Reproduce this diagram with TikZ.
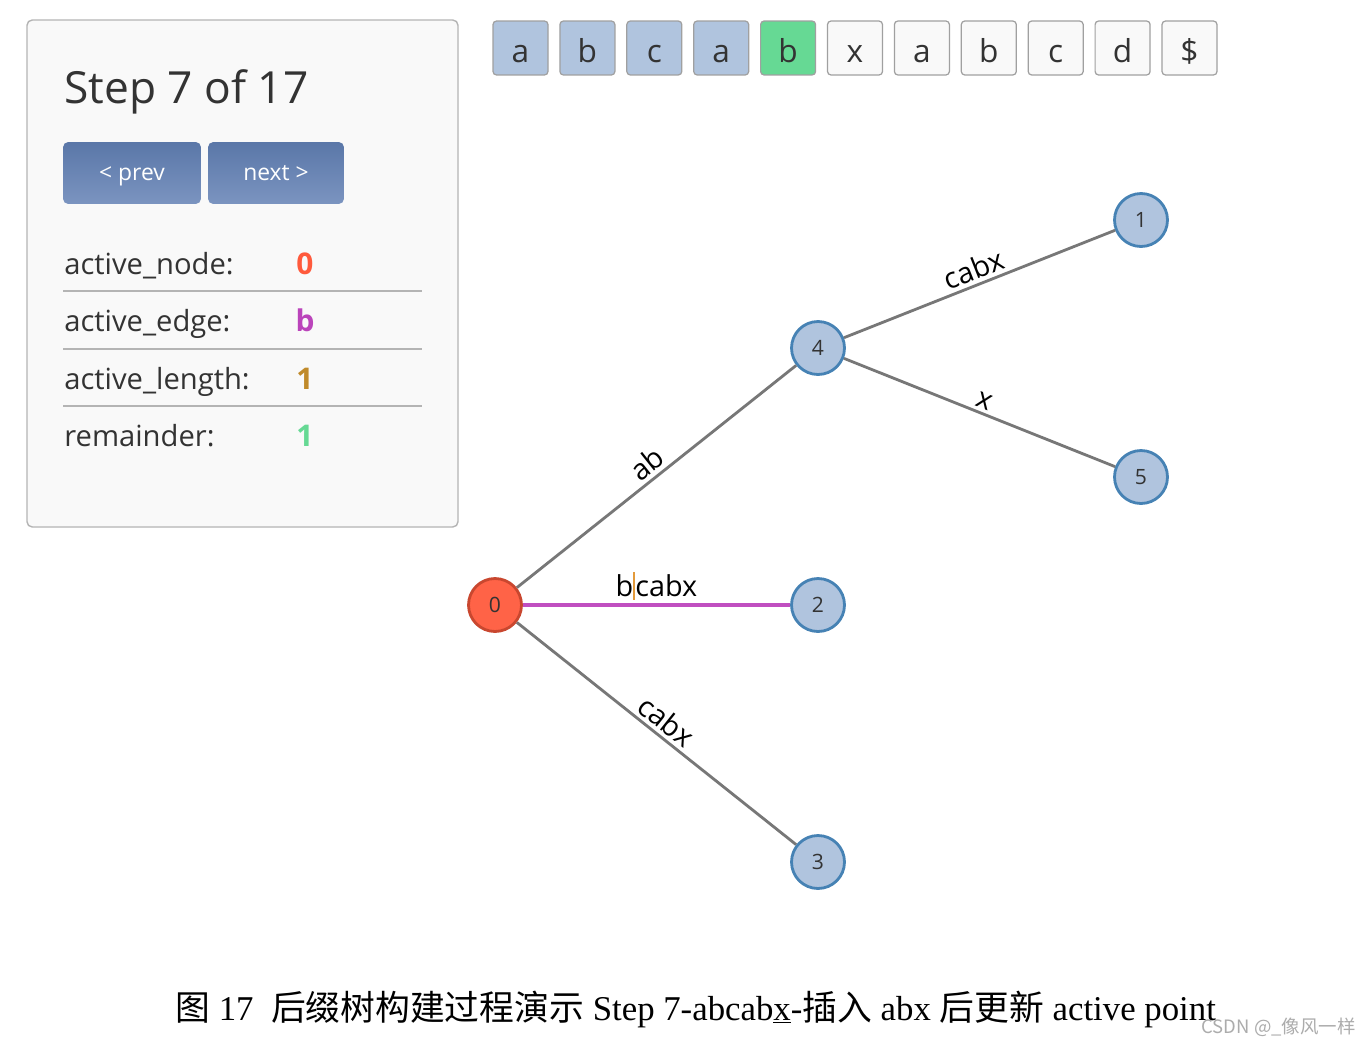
\documentclass[tikz,border=0pt]{standalone}
\usepackage{fontspec}
\setmainfont{Liberation Serif}
\newfontfamily\uifont{Open Sans}
\newfontfamily\cjkfont{Noto Sans CJK SC}
\usetikzlibrary{positioning}

\definecolor{panelbg}{HTML}{F9F9F9}
\definecolor{panelline}{HTML}{B4B4B4}
\definecolor{textgray}{HTML}{333333}
\definecolor{btntop}{HTML}{5A77A8}
\definecolor{btnbot}{HTML}{7B94C0}
\definecolor{nodefill}{HTML}{B0C4DE}
\definecolor{nodeline}{HTML}{4682B4}
\definecolor{activefill}{HTML}{FF6347}
\definecolor{activeline}{HTML}{C9472F}
\definecolor{edgegray}{HTML}{777777}
\definecolor{edgemag}{HTML}{C04FC0}
\definecolor{charblue}{HTML}{B0C4DE}
\definecolor{chargreen}{HTML}{66D994}
\definecolor{charwhite}{HTML}{F9F9F9}
\definecolor{charline}{HTML}{A0A0A0}
\definecolor{valnode}{HTML}{FF5A3C}
\definecolor{valedge}{HTML}{BB44BB}
\definecolor{vallen}{HTML}{C08A2A}
\definecolor{valrem}{HTML}{66D994}
\definecolor{cursorbar}{HTML}{E39A3B}

\begin{document}
\begin{tikzpicture}[x=0.02cm,y=-0.02cm,
  panel/.style={draw=panelline, fill=panelbg, line width=0.8pt, rounded corners=3pt},
  button/.style={top color=btntop, bottom color=btnbot, rounded corners=3pt, text=white,
    font=\uifont\fontsize{13}{15}\selectfont, minimum height=1.24cm, text height=10pt, text depth=1pt},
  rowtext/.style={anchor=base west, inner sep=0pt, text=textgray, font=\uifont\fontsize{16.6}{20}\selectfont},
  rowval/.style={anchor=base, inner sep=0pt, font=\uifont\bfseries\fontsize{17}{20}\selectfont},
  rowline/.style={draw=panelline, line width=1pt},
  charbox/.style={draw=charline, rounded corners=2pt, line width=0.7pt, minimum width=1.1cm,
    minimum height=1.08cm, text=textgray, font=\uifont\fontsize{18}{20}\selectfont,
    text height=17pt, text depth=1pt},
  treenode/.style={circle, draw=nodeline, fill=nodefill, line width=1.6pt, minimum size=1.06cm,
    inner sep=0pt, text=textgray, font=\uifont\fontsize{12}{14}\selectfont},
  activenode/.style={treenode, draw=activeline, fill=activefill},
  edge/.style={draw=edgegray, line width=1.6pt},
  elabel/.style={sloped, above, inner sep=2pt, text=black, font=\uifont\fontsize{16.4}{18}\selectfont}]
\useasboundingbox[fill=white] (0,0) rectangle (1372,1045);

% control panel
\draw[panel] (27,20) rectangle (458,527);
\node[anchor=base west, inner sep=0pt, text=textgray, font=\uifont\fontsize{25.2}{30}\selectfont] (title) at (64,103) {Step 7 of 17};
\node[button, minimum width=2.76cm] (prev) at (132,173) {< prev};
\node[button, minimum width=2.72cm] (next) at (276,173) {next >};
\foreach \lbl/\val/\col/\yb [count=\i] in {active\_node:/0/valnode/274, active\_edge:/b/valedge/331,
    active\_length:/1/vallen/389, remainder:/1/valrem/446} {
  \node[rowtext] (lbl\i) at (64,\yb) {\lbl};
  \node[rowval, text=\col] (val\i) at (305,\yb) {\val};
}
\foreach \yl in {291,349,406}
  \draw[rowline] (63,\yl) -- (422,\yl);

% string
\foreach \ch/\col [count=\i] in {a/charblue, b/charblue, c/charblue, a/charblue, b/chargreen,
    x/charwhite, a/charwhite, b/charwhite, c/charwhite, d/charwhite, \$/charwhite}
  \node[charbox, fill=\col] (ch\i) at ({520.5+(\i-1)*66.9},48) {\ch};

% suffix tree
\node[activenode] (n0) at (495,605) {0};
\node[treenode] (n4) at (818,348) {4};
\node[treenode] (n1) at (1141,220) {1};
\node[treenode] (n5) at (1141,477) {5};
\node[treenode] (n2) at (818,605) {2};
\node[treenode] (n3) at (818,862) {3};
\draw[edge] (n0) -- node[elabel] {ab} (n4);
\draw[edge] (n4) -- node[elabel] {cabx} (n1);
\draw[edge] (n4) -- node[elabel] {x} (n5);
\draw[edge, draw=edgemag, line width=2pt] (n0) -- node[elabel] {b\textcolor{cursorbar}{\rule[-0.12em]{0.07em}{0.95em}}cabx} (n2);
\draw[edge] (n0) -- node[elabel] {cabx} (n3);

% caption
\node[anchor=base west, inner sep=0pt, font=\fontsize{19.8}{22}\selectfont] (caption) at (175,1020)
  {{\cjkfont 图} 17\ \ {\cjkfont 后缀树构建过程演示} Step 7-abcab\underline{x}-{\cjkfont 插入} abx {\cjkfont 后更新} active point};
\node[anchor=base east, inner sep=0pt, text=gray!65, font=\cjkfont\fontsize{10.5}{12}\selectfont] (mark) at (1356,1033) {CSDN @\_像风一样};
\end{tikzpicture}
\end{document}
